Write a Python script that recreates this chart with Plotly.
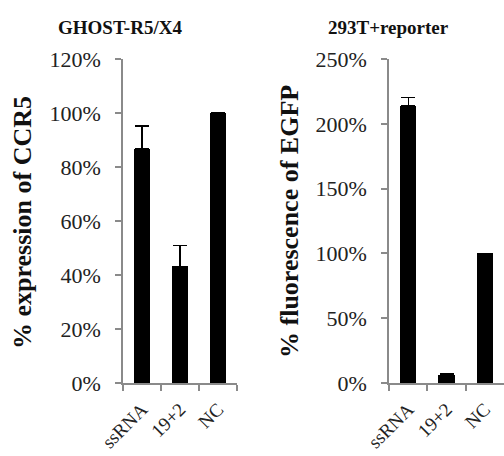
import plotly.graph_objects as go

# Data (percent values)
categories = ["ssRNA", "19+2", "NC"]
ccr5_expression = [86.7, 43.2, 100.0]
ccr5_error = [8.5, 7.8, 0.0]
egfp_fluorescence = [213.7, 6.4, 100.0]
egfp_error = [6.5, 0.8, 0.0]

W, H = 504, 456
SERIF = "Liberation Serif"

fig = go.Figure()

fig.add_trace(go.Bar(
    x=categories, y=ccr5_expression, xaxis="x", yaxis="y",
    width=0.43, marker=dict(color="black", line=dict(color="black", width=0)),
    error_y=dict(type="data", array=ccr5_error, arrayminus=[0, 0, 0],
                 symmetric=False, visible=True, color="black",
                 thickness=1.3, width=7),
    showlegend=False,
))
fig.add_trace(go.Bar(
    x=categories, y=egfp_fluorescence, xaxis="x2", yaxis="y2",
    width=0.43, marker=dict(color="black", line=dict(color="black", width=0)),
    error_y=dict(type="data", array=egfp_error, arrayminus=[0, 0, 0],
                 symmetric=False, visible=True, color="black",
                 thickness=1.3, width=7),
    showlegend=False,
))

def px_x(v):
    return v / W

def px_y(v):
    return 1 - v / H

axis_line = dict(showline=True, linecolor="#8a8a8a", linewidth=1.5,
                 showgrid=False, zeroline=False, ticks="outside",
                 tickcolor="#8a8a8a", tickwidth=1.5, automargin=False)

xcommon = dict(axis_line, type="category", tickson="boundaries", ticklen=6,
               tickangle=-45, ticklabelstandoff=6,
               tickfont=dict(family=SERIF, size=19, color="#222"))
ycommon = dict(axis_line, ticklen=6, ticksuffix="%", ticklabelstandoff=10,
               tickfont=dict(family=SERIF, size=22, color="#222"))

fig.update_layout(
    template="none",
    width=W, height=H,
    margin=dict(l=0, r=0, t=0, b=0, autoexpand=False),
    paper_bgcolor="white", plot_bgcolor="white",
    bargap=0,
    xaxis=dict(xcommon, domain=[px_x(123), px_x(237)], anchor="y"),
    yaxis=dict(ycommon, domain=[px_y(383), px_y(59)], range=[0, 120],
               dtick=20, anchor="x"),
    xaxis2=dict(xcommon, domain=[px_x(389), px_x(504)], anchor="y2"),
    yaxis2=dict(ycommon, domain=[px_y(383), px_y(59)], range=[0, 250],
                dtick=50, anchor="x2"),
    annotations=[
        dict(text="<b>GHOST-R5/X4</b>", x=px_x(120), y=px_y(27),
             xref="paper", yref="paper", showarrow=False,
             xanchor="center", yanchor="middle",
             font=dict(family=SERIF, size=19, color="#111")),
        dict(text="<b>293T+reporter</b>", x=px_x(388), y=px_y(27),
             xref="paper", yref="paper", showarrow=False,
             xanchor="center", yanchor="middle",
             font=dict(family=SERIF, size=19, color="#111")),
        dict(text="<b>% expression of CCR5</b>", x=px_x(22), y=px_y(223),
             xref="paper", yref="paper", showarrow=False, textangle=-90,
             xanchor="center", yanchor="middle",
             font=dict(family=SERIF, size=26, color="#111")),
        dict(text="<b>% fluorescence of EGFP</b>", x=px_x(289), y=px_y(222),
             xref="paper", yref="paper", showarrow=False, textangle=-90,
             xanchor="center", yanchor="middle",
             font=dict(family=SERIF, size=26, color="#111")),
    ],
)

fig.write_html("out.html")
